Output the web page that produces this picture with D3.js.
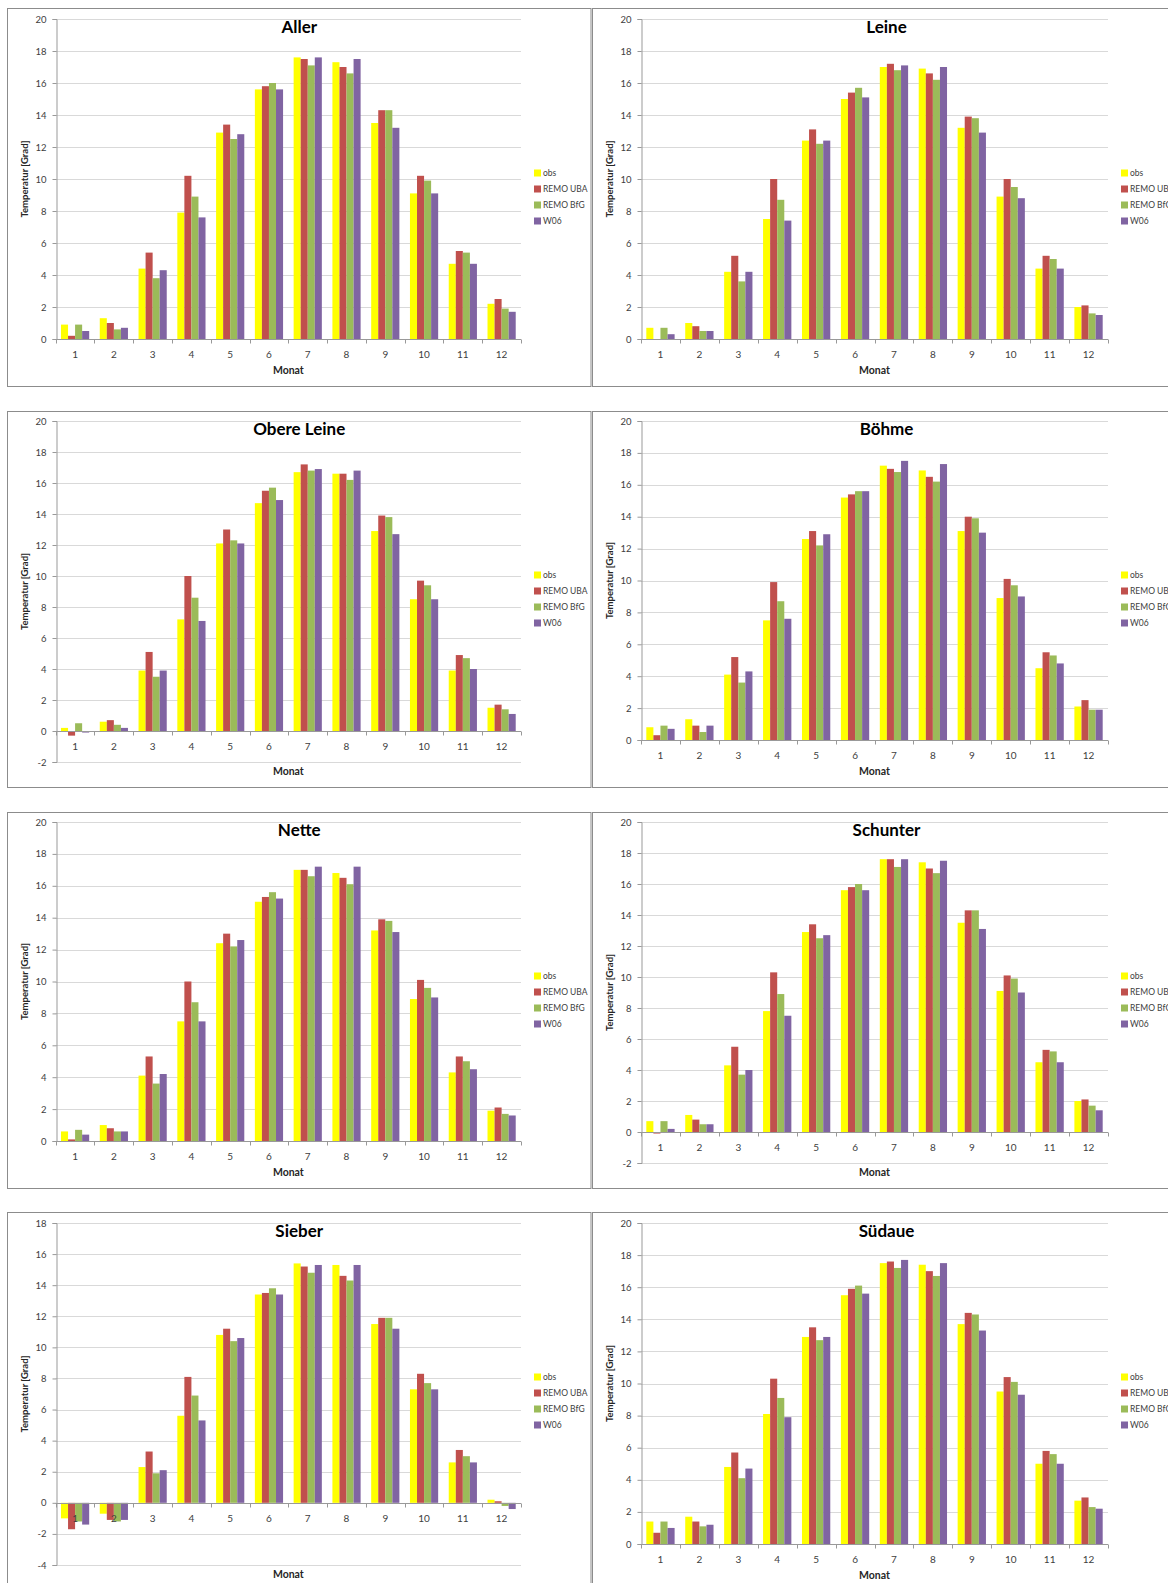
<!DOCTYPE html>
<html><head><meta charset="utf-8">
<script src="https://cdn.jsdelivr.net/npm/d3@7"></script>
<style>
body{margin:0;background:#fff}
svg{display:block}
text{font-family:Lato,"Open Sans","Liberation Sans",sans-serif}
</style>
</head><body>
<svg id="c" width="1168" height="1583"></svg>
<script>
const months = ["1","2","3","4","5","6","7","8","9","10","11","12"];
const seriesNames = ["obs","REMO UBA","REMO BfG","W06"];
const catchments = ["Aller","Leine","Obere Leine","Böhme","Nette","Schunter","Sieber","Südaue"];

const aller = [
  [0.9,1.3,4.4,7.9,12.9,15.6,17.6,17.3,13.5,9.1,4.7,2.2],
  [0.2,1.0,5.4,10.2,13.4,15.8,17.5,17.0,14.3,10.2,5.5,2.5],
  [0.9,0.6,3.8,8.9,12.5,16.0,17.1,16.6,14.3,9.9,5.4,1.9],
  [0.5,0.7,4.3,7.6,12.8,15.6,17.6,17.5,13.2,9.1,4.7,1.7]];
const leine = [
  [0.7,1.0,4.2,7.5,12.4,15.0,17.0,16.9,13.2,8.9,4.4,2.0],
  [0.0,0.8,5.2,10.0,13.1,15.4,17.2,16.6,13.9,10.0,5.2,2.1],
  [0.7,0.5,3.6,8.7,12.2,15.7,16.8,16.2,13.8,9.5,5.0,1.6],
  [0.3,0.5,4.2,7.4,12.4,15.1,17.1,17.0,12.9,8.8,4.4,1.5]];
const obereLeine = [
  [0.2,0.6,3.9,7.2,12.1,14.7,16.7,16.6,12.9,8.5,3.9,1.5],
  [-0.3,0.7,5.1,10.0,13.0,15.5,17.2,16.6,13.9,9.7,4.9,1.7],
  [0.5,0.4,3.5,8.6,12.3,15.7,16.8,16.2,13.8,9.4,4.7,1.4],
  [-0.1,0.2,3.9,7.1,12.1,14.9,16.9,16.8,12.7,8.5,4.0,1.1]];
const boehme = [
  [0.8,1.3,4.1,7.5,12.6,15.2,17.2,16.9,13.1,8.9,4.5,2.1],
  [0.3,0.9,5.2,9.9,13.1,15.4,17.0,16.5,14.0,10.1,5.5,2.5],
  [0.9,0.5,3.6,8.7,12.2,15.6,16.8,16.2,13.9,9.7,5.3,1.9],
  [0.7,0.9,4.3,7.6,12.9,15.6,17.5,17.3,13.0,9.0,4.8,1.9]];
const nette = [
  [0.6,1.0,4.1,7.5,12.4,15.0,17.0,16.8,13.2,8.9,4.3,1.9],
  [0.1,0.8,5.3,10.0,13.0,15.3,17.0,16.5,13.9,10.1,5.3,2.1],
  [0.7,0.6,3.6,8.7,12.2,15.6,16.6,16.1,13.8,9.6,5.0,1.7],
  [0.4,0.6,4.2,7.5,12.6,15.2,17.2,17.2,13.1,9.0,4.5,1.6]];
const schunter = [
  [0.7,1.1,4.3,7.8,12.9,15.6,17.6,17.4,13.5,9.1,4.5,2.0],
  [-0.1,0.8,5.5,10.3,13.4,15.8,17.6,17.0,14.3,10.1,5.3,2.1],
  [0.7,0.5,3.7,8.9,12.5,16.0,17.1,16.7,14.3,9.9,5.2,1.7],
  [0.2,0.5,4.0,7.5,12.7,15.6,17.6,17.5,13.1,9.0,4.5,1.4]];
const sieber = [
  [-1.0,-0.7,2.3,5.6,10.8,13.4,15.4,15.3,11.5,7.3,2.6,0.2],
  [-1.7,-1.1,3.3,8.1,11.2,13.5,15.2,14.6,11.9,8.3,3.4,0.1],
  [-1.2,-1.2,1.9,6.9,10.4,13.8,14.8,14.3,11.9,7.7,3.0,-0.2],
  [-1.4,-1.1,2.1,5.3,10.6,13.4,15.3,15.3,11.2,7.3,2.6,-0.4]];
const suedaue = [
  [1.4,1.7,4.8,8.1,12.9,15.5,17.5,17.4,13.7,9.5,5.0,2.7],
  [0.7,1.4,5.7,10.3,13.5,15.9,17.6,17.0,14.4,10.4,5.8,2.9],
  [1.4,1.1,4.1,9.1,12.7,16.1,17.2,16.7,14.3,10.1,5.6,2.3],
  [1.0,1.2,4.7,7.9,12.9,15.6,17.7,17.5,13.3,9.3,5.0,2.2]];

const panelData = [aller, leine, obereLeine, boehme, nette, schunter, sieber, suedaue];
const yDomains = [[0,20],[0,20],[-2,20],[0,20],[0,20],[-2,20],[-4,18],[0,20]];
const yTickStep = 2;
const xTitle = "Monat";
const yTitle = "Temperatur [Grad]";

const colors = ["#FFFF00","#C0504D","#9BBB59","#8064A2"];

// layout (positions only)
const boxTops = [8, 411, 812, 1212];
const boxHeights = [378, 376, 376, 378];
const plotTops = [19, 421, 822, 1223];
const plotBottoms = [[339,339],[762,740],[1141,1163],[1565,1544]];
const colBoxX = [7.5, 592.5];
const colBoxW = [583.5, 588];
const colPlotX = [[55.7,521],[641,1108]];

const svg = d3.select("#c");

panelData.forEach((data, i) => {
  const row = Math.floor(i/2), col = i % 2;
  const bx = colBoxX[col], by = boxTops[row] + 0.5, bw = colBoxW[col], bh = boxHeights[row];
  const [px0, px1] = colPlotX[col];
  const py0 = plotTops[row], py1 = plotBottoms[row][col];
  const g = svg.append("g");

  g.append("rect").attr("x", bx).attr("y", by).attr("width", bw).attr("height", bh)
    .attr("fill", "#fff").attr("stroke", "#8c8c8c").attr("stroke-width", 1);

  const y = d3.scaleLinear().domain(yDomains[i]).range([py1, py0]);
  const x0 = d3.scaleBand().domain(months).range([px0, px1]).padding(0);
  const bwid = x0.bandwidth();
  const x1 = d3.scaleBand().domain(seriesNames)
    .range([bwid*0.75/5.5, bwid*4.75/5.5]).padding(0);

  const ticks = d3.range(yDomains[i][0], yDomains[i][1] + 0.001, yTickStep);

  // gridlines
  g.append("g").selectAll("line").data(ticks).join("line")
    .attr("x1", px0).attr("x2", px1)
    .attr("y1", d => Math.round(y(d)) + 0.5).attr("y2", d => Math.round(y(d)) + 0.5)
    .attr("stroke", "#d9d9d9").attr("stroke-width", 1);

  // bars
  seriesNames.forEach((s, si) => {
    g.append("g").selectAll("rect").data(data[si]).join("rect")
      .attr("x", (d, k) => x0(months[k]) + x1(s))
      .attr("width", x1.bandwidth())
      .attr("y", d => y(Math.max(0, d)))
      .attr("height", d => Math.abs(y(d) - y(0)))
      .attr("fill", colors[si]);
  });

  // y axis
  const yAxis = d3.axisLeft(y).tickValues(ticks).tickSize(4).tickPadding(6)
    .tickFormat(d => String(d));
  const ya = g.append("g").attr("transform", `translate(${Math.round(px0)+0.5},0)`).call(yAxis);
  ya.select(".domain").attr("stroke", "#999");
  ya.selectAll(".tick line").attr("stroke", "#999");
  ya.selectAll(".tick text").attr("fill", "#404040").style("font-size", "9.5px");

  // x axis at zero
  const zy = Math.round(y(0)) + 0.5;
  const xAxis = d3.axisBottom(x0).tickSize(0).tickPadding(11);
  const xa = g.append("g").attr("transform", `translate(0,${zy})`).call(xAxis);
  xa.select(".domain").remove();
  xa.selectAll(".tick text").attr("fill", "#404040").style("font-size", "10px");
  g.append("line").attr("x1", px0).attr("x2", px1).attr("y1", zy).attr("y2", zy)
    .attr("stroke", "#999");
  const bounds = months.map(m => x0(m)).concat([x0(months[11]) + bwid]);
  g.append("g").selectAll("line").data(bounds).join("line")
    .attr("x1", d => Math.round(d)+0.5).attr("x2", d => Math.round(d)+0.5)
    .attr("y1", zy).attr("y2", zy + 4).attr("stroke", "#999");

  // title
  g.append("text").attr("x", bx + bw/2 + (col === 1 ? 0 : 0)).attr("y", py0 + 14)
    .attr("text-anchor", "middle").style("font-size", "17px").style("font-weight", "bold")
    .attr("fill", "#000").text(catchments[i]);

  // axis titles
  const monatY = Math.max(y(0) + 35, py1 + 13);
  g.append("text").attr("x", (px0 + px1)/2).attr("y", monatY).attr("text-anchor", "middle")
    .style("font-size", "10.5px").style("font-weight", "bold").attr("fill", "#262626").text(xTitle);
  const ytx = px0 - 31, yty = (py0 + py1)/2;
  g.append("text").attr("transform", `translate(${ytx},${yty}) rotate(-90)`)
    .attr("text-anchor", "middle").attr("dy", "0.35em")
    .style("font-size", "9.5px").style("font-weight", "bold").attr("fill", "#262626").text(yTitle);

  // legend
  const lx = px1 + 13, lcy = boxTops[row] + bh/2;
  const lg = g.append("g").selectAll("g").data(seriesNames).join("g")
    .attr("transform", (d, k) => `translate(${lx},${lcy + (k - 1.5)*16})`);
  lg.append("rect").attr("x", 0).attr("y", -3.5).attr("width", 7).attr("height", 7)
    .attr("fill", (d, k) => colors[k]);
  lg.append("text").attr("x", 9).attr("y", 0).attr("dy", "0.35em")
    .style("font-size", "8.5px").attr("fill", "#404040").text(d => d);
});
</script>
</body></html>
